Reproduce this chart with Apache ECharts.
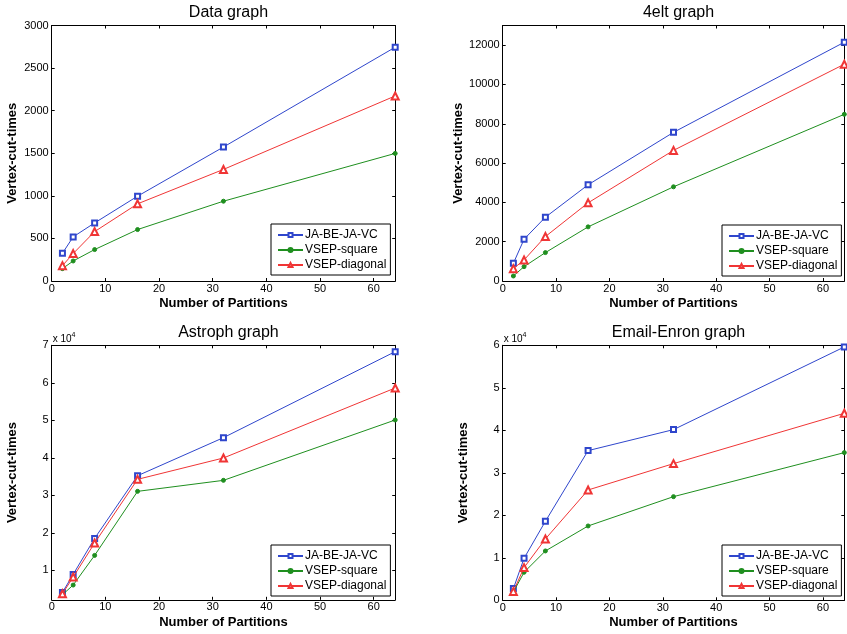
<!DOCTYPE html>
<html>
<head>
<meta charset="utf-8">
<script src="https://cdn.jsdelivr.net/npm/echarts@6/dist/echarts.min.js"></script>
<style>
html,body{margin:0;padding:0;background:#fff;}
#chart{width:847px;height:634px;}
</style>
</head>
<body>
<div id="chart"></div>
<script>
// ---- data ----
const partitions = [2, 4, 8, 16, 32, 64];
const seriesNames = ['JA-BE-JA-VC', 'VSEP-square', 'VSEP-diagonal'];
const titles = ['Data graph', '4elt graph', 'Astroph graph', 'Email-Enron graph'];

const dataJa = [325, 518, 682, 996, 1573, 2745];
const dataSquare = [145, 235, 369, 604, 937, 1498];
const dataDiag = [180, 322, 580, 906, 1310, 2173];

const eltJa = [900, 2125, 3246, 4895, 7564, 12150];
const eltSquare = [255, 731, 1445, 2754, 4793, 8480];
const eltDiag = [629, 1071, 2261, 3977, 6646, 11030];

const astroJa = [4130, 8930, 18530, 35240, 45380, 68310];
const astroSquare = [3510, 6090, 14000, 31070, 34000, 50090];
const astroDiag = [3780, 8220, 17290, 34270, 39960, 58620];

const enronJa = [2750, 9880, 18590, 35220, 40160, 59610];
const enronSquare = [1960, 6590, 11610, 17490, 24390, 34750];
const enronDiag = [2100, 7690, 14430, 25960, 32160, 44000];

const xTicks = [0, 10, 20, 30, 40, 50, 60];
const yTicksData = [0, 500, 1000, 1500, 2000, 2500, 3000];
const yTicksElt = [0, 2000, 4000, 6000, 8000, 10000, 12000];
const yTicksAstro = [10000, 20000, 30000, 40000, 50000, 60000, 70000];
const yTicksEnron = [0, 10000, 20000, 30000, 40000, 50000, 60000];

const yRanges = [[0, 3000], [0, 13000], [2160, 70000], [0, 60000]];
// ---- end data ----

const FONT = '"Liberation Sans", Arial, Helvetica, sans-serif';
const COLORS = ['#2f46cc', '#1f8f1f', '#f03535'];
const SYMBOLS = ['emptyRect', 'circle', 'emptyTriangle'];
const SYMSIZE = [5, 4, 7];

const grids = [
  {left: 51.7, top: 25.5, width: 343.5, height: 255.5},
  {left: 502.7, top: 25.5, width: 341.6, height: 255.5},
  {left: 51.7, top: 345.3, width: 343.5, height: 254.5},
  {left: 502.7, top: 345.3, width: 341.6, height: 255}
];
const legendPos = [
  {left: 271, top: 224},
  {left: 722, top: 225},
  {left: 271, top: 545},
  {left: 722, top: 545}
];
const yTickSets = [yTicksData, yTicksElt, yTicksAstro, yTicksEnron];
const seriesSets = [
  [dataJa, dataSquare, dataDiag],
  [eltJa, eltSquare, eltDiag],
  [astroJa, astroSquare, astroDiag],
  [enronJa, enronSquare, enronDiag]
];
const scaled = [false, false, true, true];

const axisLine = {show: true, onZero: false, lineStyle: {color: '#000', width: 1}};
const tickStyle = {show: true, inside: true, length: 3, lineStyle: {color: '#000', width: 1}};
const labelStyle = {color: '#000', fontSize: 11, fontFamily: FONT};
const nameStyle = {fontSize: 13, fontWeight: 'bold', fontFamily: FONT, color: '#000'};

const xAxes = [], yAxes = [], series = [], titleArr = [], legends = [], graphics = [];

grids.forEach((g, i) => {
  xAxes.push({
    type: 'value', gridIndex: i, min: 0, max: 64, position: 'bottom',
    name: 'Number of Partitions', nameLocation: 'middle', nameGap: 16,
    nameTextStyle: nameStyle,
    axisLine: axisLine,
    axisTick: Object.assign({}, tickStyle, {customValues: xTicks}),
    axisLabel: Object.assign({}, labelStyle, {margin: 2, customValues: xTicks}),
    splitLine: {show: false}
  });
  xAxes.push({
    type: 'value', gridIndex: i, min: 0, max: 64, position: 'top',
    axisLine: axisLine,
    axisTick: Object.assign({}, tickStyle, {customValues: xTicks}),
    axisLabel: {show: false, customValues: xTicks},
    splitLine: {show: false}
  });
  const yt = yTickSets[i];
  const sc = scaled[i];
  yAxes.push({
    type: 'value', gridIndex: i, min: yRanges[i][0], max: yRanges[i][1], position: 'left',
    name: 'Vertex-cut-times', nameLocation: 'middle', nameGap: 33,
    nameTextStyle: nameStyle,
    axisLine: axisLine,
    axisTick: Object.assign({}, tickStyle, {customValues: yt}),
    axisLabel: Object.assign({}, labelStyle, {margin: 3, customValues: yt,
      formatter: v => sc ? String(Math.round(v / 10000)) : String(v)}),
    splitLine: {show: false}
  });
  yAxes.push({
    type: 'value', gridIndex: i, min: yRanges[i][0], max: yRanges[i][1], position: 'right',
    axisLine: axisLine,
    axisTick: Object.assign({}, tickStyle, {customValues: yt}),
    axisLabel: {show: false, customValues: yt},
    splitLine: {show: false}
  });
  seriesSets[i].forEach((vals, k) => {
    series.push({
      name: seriesNames[k], type: 'line',
      xAxisIndex: i * 2, yAxisIndex: i * 2,
      data: partitions.map((p, j) => [p, vals[j]]),
      symbol: SYMBOLS[k], symbolSize: SYMSIZE[k],
      showAllSymbol: true, clip: false, z: 3 + k,
      lineStyle: {color: COLORS[k], width: 1},
      itemStyle: {color: COLORS[k], borderColor: COLORS[k], borderWidth: 1},
      emphasis: {disabled: true},
      animation: false
    });
  });
  titleArr.push({
    text: titles[i], left: g.left + g.width / 2, top: g.top - 26, textAlign: 'center',
    textStyle: {fontSize: 16, fontWeight: 'normal', fontFamily: FONT, color: '#000'}
  });
  legends.push({
    data: seriesNames, orient: 'vertical', left: legendPos[i].left, top: legendPos[i].top,
    itemWidth: 25, itemHeight: 5, itemGap: 3, padding: [5, 4, 4, 6],
    borderColor: '#000', borderWidth: 1, backgroundColor: '#fff',
    textStyle: {fontSize: 12, fontFamily: FONT, color: '#000', padding: [0, 0, 0, -3]},
    selectedMode: false, z: 10
  });
  if (sc) {
    graphics.push({
      type: 'text', left: g.left + 1, top: g.top - 14, z: 20,
      style: {
        text: '{a|x 10}{b|4}', fill: '#000',
        rich: {
          a: {fontSize: 10, fontFamily: FONT, verticalAlign: 'bottom'},
          b: {fontSize: 7, fontFamily: FONT, verticalAlign: 'top', padding: [0, 0, 6, 0]}
        }
      }
    });
  }
});

const chart = echarts.init(document.getElementById('chart'), null, {renderer: 'canvas'});
chart.setOption({
  backgroundColor: '#fff',
  animation: false,
  title: titleArr,
  grid: grids.map(g => Object.assign({containLabel: false, show: false}, g)),
  xAxis: xAxes,
  yAxis: yAxes,
  legend: legends,
  graphic: graphics,
  series: series
});
</script>
</body>
</html>
